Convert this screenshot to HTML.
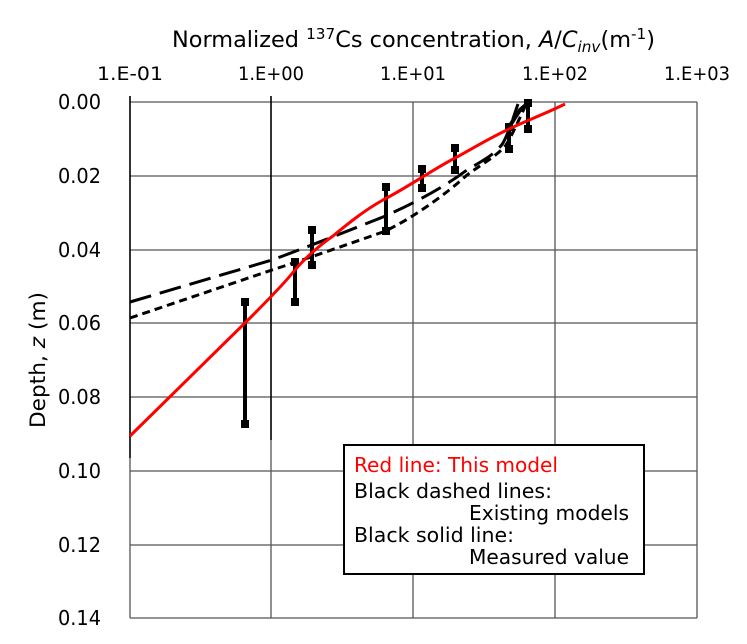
<!DOCTYPE html>
<html><head><meta charset="utf-8"><style>
body{margin:0;background:#fff;}
svg text{font-family:"DejaVu Sans","Liberation Sans","Noto Sans CJK JP",sans-serif;}
</style></head><body>
<svg width="747" height="639" viewBox="0 0 747 639" xmlns="http://www.w3.org/2000/svg">
<rect width="747" height="639" fill="#fff"/>
<g stroke="#555" stroke-width="1.3" fill="none">
<line x1="130" y1="102" x2="697" y2="102"/>
<line x1="130" y1="176" x2="697" y2="176"/>
<line x1="130" y1="250" x2="697" y2="250"/>
<line x1="130" y1="323" x2="697" y2="323"/>
<line x1="130" y1="397" x2="697" y2="397"/>
<line x1="130" y1="471" x2="697" y2="471"/>
<line x1="130" y1="545" x2="697" y2="545"/>
<line x1="130" y1="618" x2="697" y2="618"/>
<line x1="413" y1="102" x2="413" y2="618"/>
<line x1="555" y1="102" x2="555" y2="618"/>
<line x1="697" y1="102" x2="697" y2="618"/>
<line x1="271" y1="440" x2="271" y2="618"/>
<line x1="130" y1="458" x2="130" y2="618"/>
</g>
<g stroke="#000" stroke-width="1.6">
<line x1="130" y1="96" x2="130" y2="458"/>
<line x1="271" y1="96" x2="271" y2="440"/>
</g>
<path d="M130,302 L272,260 C300,250 360,226 383,217 C410,205 440,190 467,170 C480,162 495,155 503,143 C510,130 514,115 518,104" fill="none" stroke="#000" stroke-width="3" stroke-dasharray="22,9"/>
<path d="M130,318 L272,270 C300,261 360,240 383,232 C410,220 445,195 467,175 C485,162 498,155 506,145 C515,130 522,112 528,101" fill="none" stroke="#000" stroke-width="3" stroke-dasharray="8,5"/>
<g stroke="#000" stroke-width="4">
<line x1="245" y1="302" x2="245" y2="424"/>
<line x1="295" y1="262" x2="295" y2="302"/>
<line x1="312" y1="230" x2="312" y2="265"/>
<line x1="386" y1="187" x2="386" y2="231"/>
<line x1="422" y1="169" x2="422" y2="188"/>
<line x1="455" y1="148" x2="455" y2="170"/>
<line x1="509" y1="127" x2="509" y2="149"/>
<line x1="528" y1="103" x2="528" y2="129"/>
<polyline points="509,127 520,110 528,103" fill="none"/>
</g>
<g fill="#000">
<rect x="241" y="298" width="8" height="8"/><rect x="241" y="420" width="8" height="8"/>
<rect x="291" y="258" width="8" height="8"/><rect x="291" y="298" width="8" height="8"/>
<rect x="308" y="226" width="8" height="8"/><rect x="308" y="261" width="8" height="8"/>
<rect x="382" y="183" width="8" height="8"/><rect x="382" y="227" width="8" height="8"/>
<rect x="418" y="165" width="8" height="8"/><rect x="418" y="184" width="8" height="8"/>
<rect x="451" y="144" width="8" height="8"/><rect x="451" y="166" width="8" height="8"/>
<rect x="505" y="123" width="8" height="8"/><rect x="505" y="145" width="8" height="8"/>
<rect x="524" y="99" width="8" height="8"/><rect x="524" y="125" width="8" height="8"/>
</g>
<path d="M130,436 L250,318 C265,303 283,285 295,270 C305,258 320,245 333,236 C350,222 365,210 383,200 C410,186 435,168 457,157 C475,147 490,138 507,130 C525,121 545,114 565,104" fill="none" stroke="#f00" stroke-width="3"/>
<rect x="344" y="445" width="300" height="129" fill="#fff" stroke="#000" stroke-width="2"/>
<g font-size="20">
<text x="354" y="472" fill="#f00" textLength="204" lengthAdjust="spacingAndGlyphs">Red line: This model</text>
<text x="354" y="498" textLength="198" lengthAdjust="spacingAndGlyphs">Black dashed lines:</text>
<text x="469" y="520" textLength="160" lengthAdjust="spacingAndGlyphs">Existing models</text>
<text x="354" y="542" textLength="160" lengthAdjust="spacingAndGlyphs">Black solid line:</text>
<text x="469" y="564" textLength="160" lengthAdjust="spacingAndGlyphs">Measured value</text>
</g>
<g font-size="19" text-anchor="middle">
<text x="130" y="80" textLength="66" lengthAdjust="spacingAndGlyphs">1.E-01</text>
<text x="271" y="80" textLength="66" lengthAdjust="spacingAndGlyphs">1.E+00</text>
<text x="413" y="80" textLength="66" lengthAdjust="spacingAndGlyphs">1.E+01</text>
<text x="555" y="80" textLength="66" lengthAdjust="spacingAndGlyphs">1.E+02</text>
<text x="697" y="80" textLength="66" lengthAdjust="spacingAndGlyphs">1.E+03</text>
</g>
<g font-size="20" text-anchor="end">
<text x="101" y="109" textLength="43" lengthAdjust="spacingAndGlyphs">0.00</text>
<text x="101" y="183" textLength="43" lengthAdjust="spacingAndGlyphs">0.02</text>
<text x="101" y="257" textLength="43" lengthAdjust="spacingAndGlyphs">0.04</text>
<text x="101" y="330" textLength="43" lengthAdjust="spacingAndGlyphs">0.06</text>
<text x="101" y="404" textLength="43" lengthAdjust="spacingAndGlyphs">0.08</text>
<text x="101" y="478" textLength="43" lengthAdjust="spacingAndGlyphs">0.10</text>
<text x="101" y="552" textLength="43" lengthAdjust="spacingAndGlyphs">0.12</text>
<text x="101" y="625" textLength="43" lengthAdjust="spacingAndGlyphs">0.14</text>
</g>
<text x="172" y="47" font-size="22" textLength="483" lengthAdjust="spacingAndGlyphs">Normalized <tspan font-size="15" dy="-8">137</tspan><tspan dy="8">Cs concentration, </tspan><tspan font-style="italic">A</tspan>/<tspan font-style="italic">C</tspan><tspan font-style="italic" font-size="15" dy="5">inv</tspan><tspan dy="-5">(m</tspan><tspan font-size="15" dy="-8">-1</tspan><tspan dy="8">)</tspan></text>
<text transform="translate(45,360) rotate(-90)" font-size="21" text-anchor="middle" textLength="136" lengthAdjust="spacingAndGlyphs">Depth, <tspan font-style="italic">z</tspan> (m)</text>
</svg>
</body></html>
